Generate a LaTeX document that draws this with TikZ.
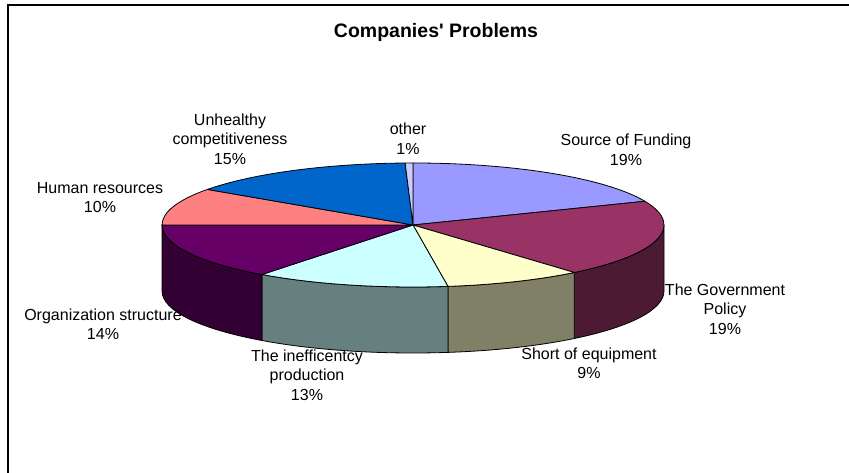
\documentclass[tikz,border=0pt]{standalone}
\usepackage{fontspec}
\setmainfont{Liberation Sans}
\usepackage{tikz}

% slice colours
\definecolor{funding}{HTML}{9999FF}
\definecolor{govpolicy}{HTML}{993366}
\definecolor{govside}{HTML}{4D1A33}
\definecolor{equipment}{HTML}{FFFFCC}
\definecolor{equipside}{HTML}{808066}
\definecolor{ineffic}{HTML}{CCFFFF}
\definecolor{inefside}{HTML}{668080}
\definecolor{orgstruct}{HTML}{660066}
\definecolor{orgside}{HTML}{330033}
\definecolor{humanres}{HTML}{FF8080}
\definecolor{unhealthy}{HTML}{0066CC}
\definecolor{other}{HTML}{CCCCFF}

\tikzset{
  slice/.style={draw=black, line width=0.8pt, line join=round},
  pie/.style={x radius=251, y radius=62},
  lbl/.style={align=center, inner sep=0pt, font=\fontsize{16}{19.5}\selectfont},
}

\begin{document}
\begin{tikzpicture}[x=1pt, y=1pt]
\useasboundingbox (0,0) rectangle (849,473);

% chart frame
\draw [line width=1.6pt] (8,0) -- (8,468) -- (849,468);

% title
\node (title) at (436,441) [font=\bfseries\fontsize{19.5}{22}\selectfont] {Companies\textquotesingle{} Problems};

% centre of the pie top
\coordinate (C) at (413,248);

%% sides (front half)

% The Government Policy
\draw [slice, fill=govside] (C) ++(0:251 and 62) arc [pie, start angle=0, end angle=-50] -- ++(0,-66) arc [pie, start angle=-50, end angle=0] -- cycle;
% Short of equipment
\draw [slice, fill=equipside] (C) ++(-50:251 and 62) arc [pie, start angle=-50, end angle=-82] -- ++(0,-66) arc [pie, start angle=-82, end angle=-50] -- cycle;
% The inefficentcy production
\draw [slice, fill=inefside] (C) ++(-82:251 and 62) arc [pie, start angle=-82, end angle=-127] -- ++(0,-66) arc [pie, start angle=-127, end angle=-82] -- cycle;
% Organization structure
\draw [slice, fill=orgside] (C) ++(-127:251 and 62) arc [pie, start angle=-127, end angle=-180] -- ++(0,-66) arc [pie, start angle=-180, end angle=-127] -- cycle;

%% top of the pie

% Source of Funding
\draw [slice, fill=funding] (C) -- ++(90:251 and 62) arc [pie, start angle=90, end angle=22.5] -- cycle;
% The Government Policy
\draw [slice, fill=govpolicy] (C) -- ++(22.5:251 and 62) arc [pie, start angle=22.5, end angle=-50] -- cycle;
% Short of equipment
\draw [slice, fill=equipment] (C) -- ++(-50:251 and 62) arc [pie, start angle=-50, end angle=-82] -- cycle;
% The inefficentcy production
\draw [slice, fill=ineffic] (C) -- ++(-82:251 and 62) arc [pie, start angle=-82, end angle=-127] -- cycle;
% Organization structure
\draw [slice, fill=orgstruct] (C) -- ++(-127:251 and 62) arc [pie, start angle=-127, end angle=-180] -- cycle;
% Human resources
\draw [slice, fill=humanres] (C) -- ++(180:251 and 62) arc [pie, start angle=180, end angle=145] -- cycle;
% Unhealthy competitiveness
\draw [slice, fill=unhealthy] (C) -- ++(145:251 and 62) arc [pie, start angle=145, end angle=91.8] -- cycle;
% other
\draw [slice, fill=other] (C) -- ++(91.8:251 and 62) arc [pie, start angle=91.8, end angle=90] -- cycle;

%% data labels
\node (lfunding) at (626,323) [lbl] {Source of Funding\\19\%};
\node (lgov) at (725,164) [lbl] {The Government\\Policy\\19\%};
\node (lequip) at (589,109.5) [lbl] {Short of equipment\\9\%};
\node (lineff) at (307,98) [lbl] {The inefficentcy\\production\\13\%};
\node (lorg) at (103,148.5) [lbl] {Organization structure\\14\%};
\node (lhuman) at (100,275.5) [lbl] {Human resources\\10\%};
\node (lunhealthy) at (230,334) [lbl] {Unhealthy\\competitiveness\\15\%};
\node (lother) at (408,334) [lbl] {other\\1\%};

\end{tikzpicture}
\end{document}
